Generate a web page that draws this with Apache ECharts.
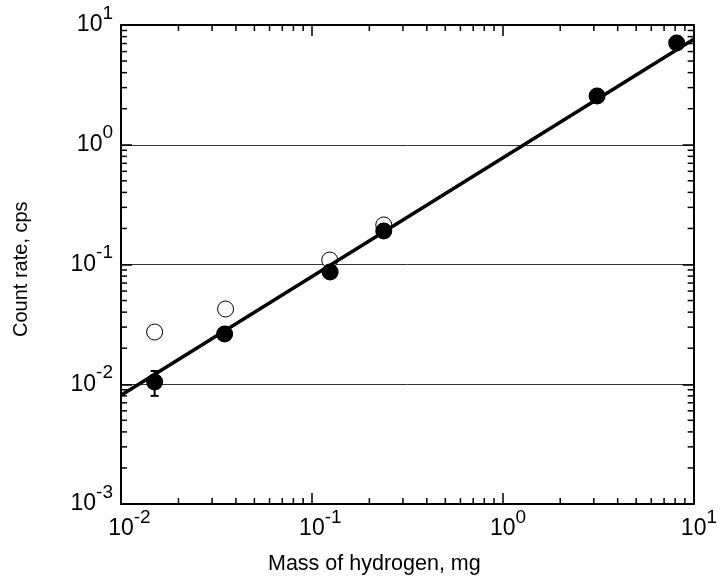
<!DOCTYPE html>
<html>
<head>
<meta charset="utf-8">
<script src="https://cdn.jsdelivr.net/npm/echarts@6/dist/echarts.min.js"></script>
<style>
html,body{margin:0;padding:0;background:#fff;}
#chart{width:720px;height:583px;}
</style>
</head>
<body>
<div id="chart"></div>
<script>
// ---- data ----
const filledX = [0.0150, 0.0349, 0.1246, 0.238, 3.12, 8.15];
const filledY = [0.01045, 0.0263, 0.0866, 0.1905, 2.55, 7.08];
const openX = [0.0150, 0.0353, 0.1240, 0.238];
const openY = [0.0273, 0.0425, 0.109, 0.214];
const errX = [0.0150];
const errLow = [0.0080];
const errHigh = [0.0129];
const fitX = [0.01, 10];
const fitY = [0.0081, 7.6];
const xTicks = [0.01, 0.1, 1, 10];
const yTicks = [0.001, 0.01, 0.1, 1, 10];
const minorMult = [2, 3, 4, 5, 6, 7, 8, 9];

const FONT = "Liberation Sans, Arial, sans-serif";

function minorValues(ticks) {
  const out = [];
  for (let i = 0; i < ticks.length - 1; i++) {
    minorMult.forEach(m => out.push(+(ticks[i] * m).toPrecision(3)));
  }
  return out;
}
const xMinor = minorValues(xTicks);
const yMinor = minorValues(yTicks);

function expOf(v) { return Math.round(Math.log10(v)); }

const richStyle = {
  h: { fontSize: 19, fontFamily: FONT, color: 'rgba(0,0,0,0)', verticalAlign: 'middle', lineHeight: 42 },
  b: { fontSize: 23, fontFamily: FONT, color: '#000', verticalAlign: 'middle', lineHeight: 24 },
  s: { fontSize: 19, fontFamily: FONT, color: '#000', verticalAlign: 'top', lineHeight: 21 }
};

const chart = echarts.init(document.getElementById('chart'), null, { renderer: 'canvas' });

const axisLine = { show: true, onZero: false, lineStyle: { color: '#000', width: 2 } };
const majorTick = { show: true, inside: true, length: 11, lineStyle: { color: '#000', width: 1.5 } };

const option = {
  backgroundColor: '#fff',
  animation: false,
  grid: { left: 121, top: 25, right: 24, bottom: 79, containLabel: false },
  xAxis: [
    {
      type: 'log', logBase: 10, min: xTicks[0], max: xTicks[xTicks.length - 1],
      position: 'bottom',
      axisLine: axisLine, axisTick: majorTick,
      splitLine: { show: false }, minorTick: { show: false },
      axisLabel: {
        show: true, margin: 4, align: 'center', verticalAlign: 'top',
        fontSize: 23, fontFamily: FONT, color: '#000',
        formatter: v => { const e = expOf(v); return '{h|' + e + '}{b|10}{s|' + e + '}'; },
        rich: richStyle, showMinLabel: true, showMaxLabel: true
      }
    },
    {
      type: 'log', logBase: 10, min: xTicks[0], max: xTicks[xTicks.length - 1],
      position: 'top',
      axisLine: axisLine, axisTick: majorTick,
      splitLine: { show: false }, axisLabel: { show: false }
    }
  ],
  yAxis: [
    {
      type: 'log', logBase: 10, min: yTicks[0], max: yTicks[yTicks.length - 1],
      position: 'left',
      axisLine: axisLine, axisTick: majorTick,
      splitLine: { show: true, lineStyle: { color: '#333', width: 1 } },
      axisLabel: {
        show: true, margin: 8, align: 'right', verticalAlign: 'middle',
        fontSize: 23, fontFamily: FONT, color: '#000',
        formatter: v => { const e = expOf(v); return '{h| }{b|10}{s|' + e + '}'; },
        rich: richStyle, showMinLabel: true, showMaxLabel: true
      }
    },
    {
      type: 'log', logBase: 10, min: yTicks[0], max: yTicks[yTicks.length - 1],
      position: 'right',
      axisLine: axisLine, axisTick: majorTick,
      splitLine: { show: false }, axisLabel: { show: false }
    }
  ],
  graphic: [
    {
      type: 'text', left: 268, top: 553,
      style: { text: 'Mass of hydrogen, mg', font: '21.5px ' + FONT, fill: '#000' }
    },
    {
      type: 'text', rotation: Math.PI / 2, x: 11, y: 337,
      style: { text: 'Count rate, cps', font: '20px ' + FONT, fill: '#000', textVerticalAlign: 'top' }
    }
  ],
  series: [
    {
      name: 'xminor', type: 'custom', xAxisIndex: 0, yAxisIndex: 0, silent: true, z: 1,
      data: xMinor.map(v => [v, 1]),
      renderItem: (params, api) => {
        const cs = params.coordSys;
        const x = api.coord([api.value(0), 1])[0];
        const yb = cs.y + cs.height, yt = cs.y;
        const st = { stroke: '#000', lineWidth: 1.5 };
        return { type: 'group', children: [
          { type: 'line', shape: { x1: x, y1: yb, x2: x, y2: yb - 6 }, style: st },
          { type: 'line', shape: { x1: x, y1: yt, x2: x, y2: yt + 6 }, style: st }
        ] };
      }
    },
    {
      name: 'yminor', type: 'custom', xAxisIndex: 0, yAxisIndex: 0, silent: true, z: 1,
      data: yMinor.map(v => [1, v]),
      renderItem: (params, api) => {
        const cs = params.coordSys;
        const y = api.coord([1, api.value(1)])[1];
        const xl = cs.x, xr = cs.x + cs.width;
        const st = { stroke: '#000', lineWidth: 1.5 };
        return { type: 'group', children: [
          { type: 'line', shape: { x1: xl, y1: y, x2: xl + 6, y2: y }, style: st },
          { type: 'line', shape: { x1: xr, y1: y, x2: xr - 6, y2: y }, style: st }
        ] };
      }
    },
    {
      name: 'open', type: 'scatter', z: 2,
      data: openX.map((x, i) => [x, openY[i]]),
      symbol: 'circle', symbolSize: 16,
      itemStyle: { color: '#fff', borderColor: '#000', borderWidth: 1, opacity: 1 }
    },
    {
      name: 'fit', type: 'line', z: 3,
      data: fitX.map((x, i) => [x, fitY[i]]),
      showSymbol: false, symbol: 'none',
      lineStyle: { color: '#000', width: 3.5 }
    },
    {
      name: 'filled', type: 'scatter', z: 4,
      data: filledX.map((x, i) => [x, filledY[i]]),
      symbol: 'circle', symbolSize: 17,
      itemStyle: { color: '#000', opacity: 1 }
    },
    {
      name: 'err', type: 'custom', z: 5, silent: true,
      data: errX.map((x, i) => [x, errLow[i], errHigh[i]]),
      renderItem: (params, api) => {
        const lo = api.coord([api.value(0), api.value(1)]);
        const hi = api.coord([api.value(0), api.value(2)]);
        const st = { stroke: '#000', lineWidth: 2 };
        return { type: 'group', children: [
          { type: 'line', shape: { x1: lo[0], y1: lo[1], x2: hi[0], y2: hi[1] }, style: st },
          { type: 'line', shape: { x1: lo[0] - 4, y1: lo[1], x2: lo[0] + 4, y2: lo[1] }, style: st },
          { type: 'line', shape: { x1: hi[0] - 4, y1: hi[1], x2: hi[0] + 4, y2: hi[1] }, style: st }
        ] };
      }
    }
  ]
};
chart.setOption(option);
</script>
</body>
</html>
